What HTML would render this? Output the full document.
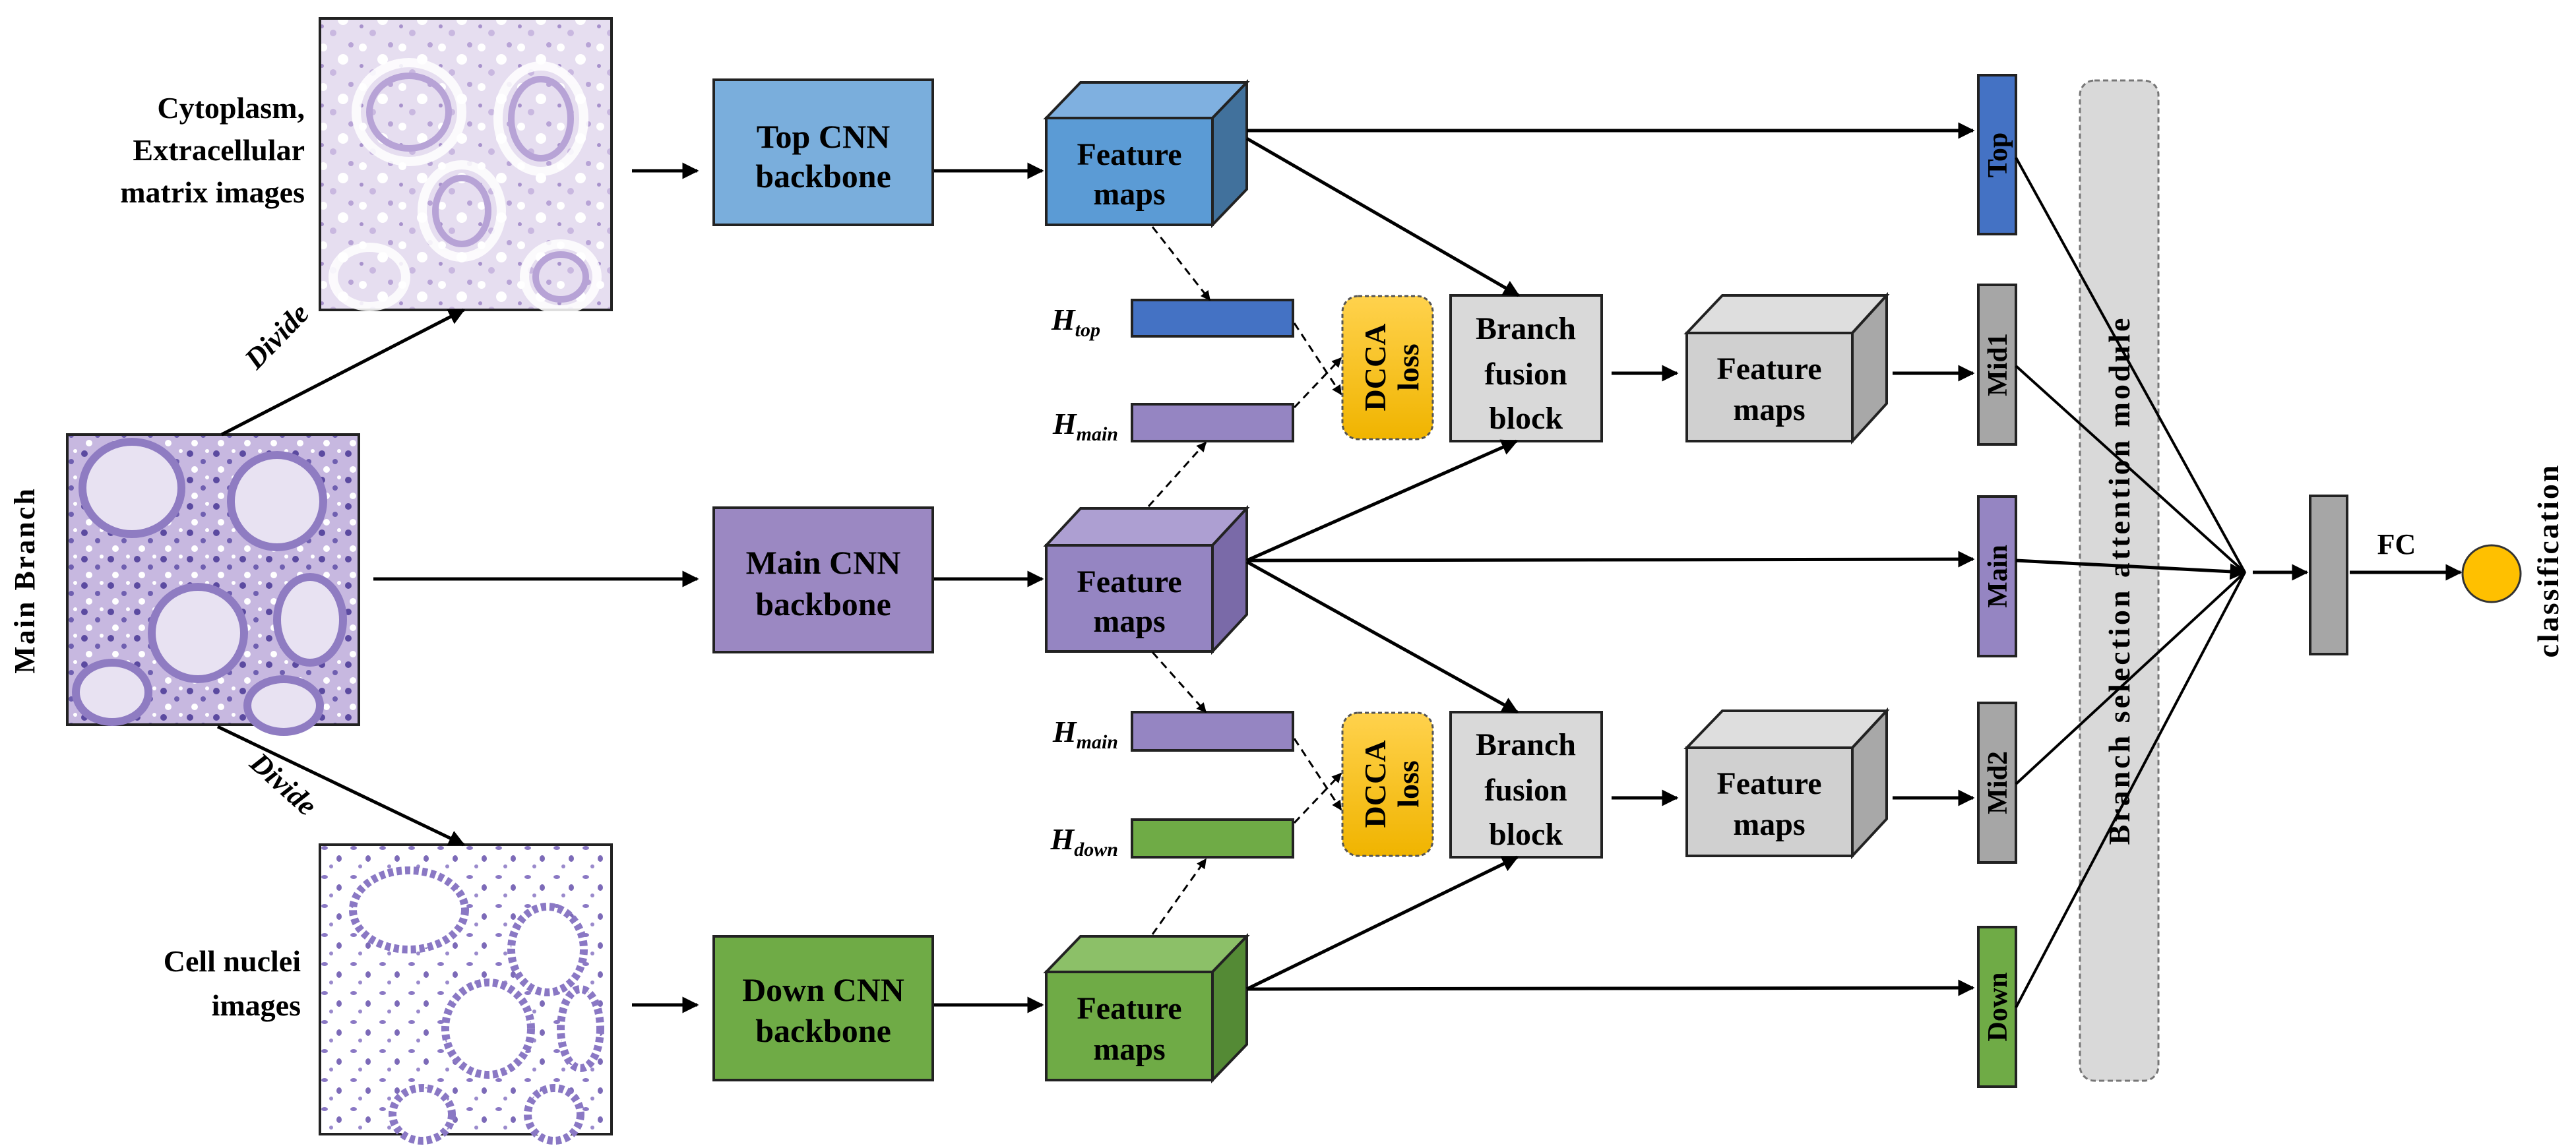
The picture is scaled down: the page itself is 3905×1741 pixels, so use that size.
<!DOCTYPE html>
<html><head><meta charset="utf-8"><style>
html,body{margin:0;padding:0;background:#fff}
svg{display:block}
text{font-family:"Liberation Serif",serif;font-weight:bold;fill:#000}
</style></head><body>
<svg width="3905" height="1741" viewBox="0 0 3905 1741" xmlns="http://www.w3.org/2000/svg">
<defs>
<marker id="a" viewBox="0 0 10 10" refX="9" refY="5" markerWidth="5" markerHeight="5" orient="auto"><path d="M0,0L10,5L0,10z" fill="#000"/></marker>
<marker id="s" viewBox="0 0 10 10" refX="9" refY="5" markerWidth="7" markerHeight="7" orient="auto"><path d="M0,1L10,5L0,9z" fill="#000"/></marker>
<pattern id="p1" width="60" height="60" patternUnits="userSpaceOnUse">
<rect width="60" height="60" fill="#e6def0"/><circle cx="10" cy="12" r="6" fill="#fff"/><circle cx="40" cy="30" r="8" fill="#fff"/><circle cx="25" cy="50" r="5" fill="#c9b8e0"/><circle cx="52" cy="8" r="4" fill="#b8a4d6"/><circle cx="8" cy="40" r="3" fill="#a892cc"/></pattern>
<pattern id="p2" width="40" height="40" patternUnits="userSpaceOnUse">
<rect width="40" height="40" fill="#c7b8e0"/><circle cx="8" cy="8" r="5" fill="#5b4aa0"/><circle cx="28" cy="20" r="4" fill="#6f5fb0"/><circle cx="15" cy="32" r="5" fill="#fff"/><circle cx="34" cy="4" r="3" fill="#fff"/></pattern>
<pattern id="p3" width="44" height="44" patternUnits="userSpaceOnUse">
<rect width="44" height="44" fill="#fff"/><ellipse cx="8" cy="10" rx="5" ry="3" fill="#8a78c4"/><ellipse cx="30" cy="26" rx="4" ry="5" fill="#7c6ab8"/><circle cx="18" cy="38" r="3" fill="#9a8acc"/></pattern>
<linearGradient id="g" x1="0" y1="0" x2="0" y2="1"><stop offset="0" stop-color="#ffd24d"/><stop offset="1" stop-color="#f0b400"/></linearGradient>
</defs>

<!-- images -->
<rect x="485" y="28" width="442" height="442" fill="url(#p1)" stroke="#222" stroke-width="4"/>
<g fill="none" stroke="#fff" stroke-width="14" opacity="0.85">
<ellipse cx="620" cy="170" rx="80" ry="75"/><ellipse cx="820" cy="180" rx="65" ry="80"/><ellipse cx="700" cy="320" rx="60" ry="70"/><ellipse cx="850" cy="420" rx="55" ry="50"/><ellipse cx="560" cy="420" rx="55" ry="45"/></g>
<g fill="none" stroke="#b7a3d6" stroke-width="10"><ellipse cx="620" cy="170" rx="60" ry="55"/><ellipse cx="820" cy="180" rx="45" ry="60"/><ellipse cx="700" cy="320" rx="40" ry="50"/><ellipse cx="850" cy="420" rx="38" ry="34"/></g>

<rect x="102" y="659" width="442" height="440" fill="url(#p2)" stroke="#222" stroke-width="4"/>
<g fill="#e8e2f2" stroke="#8f7cc2" stroke-width="12"><ellipse cx="200" cy="740" rx="75" ry="70"/><ellipse cx="420" cy="760" rx="70" ry="70"/><ellipse cx="300" cy="960" rx="70" ry="70"/><ellipse cx="470" cy="940" rx="50" ry="65"/><ellipse cx="170" cy="1050" rx="55" ry="45"/><ellipse cx="430" cy="1070" rx="55" ry="40"/></g>

<rect x="485" y="1281" width="442" height="439" fill="url(#p3)" stroke="#222" stroke-width="4"/>
<g fill="#fff" stroke="#8a78c4" stroke-width="12" stroke-dasharray="8 5"><ellipse cx="620" cy="1380" rx="85" ry="60"/><ellipse cx="830" cy="1440" rx="55" ry="65"/><ellipse cx="740" cy="1560" rx="65" ry="70"/><ellipse cx="880" cy="1560" rx="30" ry="60"/><ellipse cx="640" cy="1690" rx="45" ry="40"/><ellipse cx="840" cy="1690" rx="40" ry="40"/></g>

<!-- left labels -->
<g font-size="46" text-anchor="end">
<text x="462" y="179">Cytoplasm,</text><text x="462" y="243">Extracellular</text><text x="462" y="307">matrix images</text>
<text x="456" y="1473">Cell nuclei</text><text x="456" y="1540">images</text>
</g>
<text transform="translate(52,880) rotate(-90)" font-size="44" text-anchor="middle" letter-spacing="3">Main Branch</text>
<text transform="translate(430,520) rotate(-46)" font-size="44" font-style="italic" text-anchor="middle">Divide</text>
<text transform="translate(420,1200) rotate(42)" font-size="44" font-style="italic" text-anchor="middle">Divide</text>

<!-- divide arrows -->
<g stroke="#000" stroke-width="5" fill="none" marker-end="url(#a)">
<line x1="336" y1="659" x2="703" y2="470"/>
<line x1="330" y1="1102" x2="703" y2="1281"/>
<line x1="958" y1="259" x2="1057" y2="259"/>
<line x1="566" y1="878" x2="1057" y2="878"/>
<line x1="958" y1="1524" x2="1057" y2="1524"/>
<line x1="1414" y1="259" x2="1580" y2="259"/>
<line x1="1414" y1="878" x2="1580" y2="878"/>
<line x1="1414" y1="1524" x2="1580" y2="1524"/>
</g>

<!-- CNN boxes -->
<rect x="1082" y="121" width="332" height="220" fill="#7aaedc" stroke="#222" stroke-width="4"/>
<rect x="1082" y="770" width="332" height="219" fill="#9b88c2" stroke="#222" stroke-width="4"/>
<rect x="1082" y="1420" width="332" height="218" fill="#6fab46" stroke="#222" stroke-width="4"/>
<g font-size="50" text-anchor="middle">
<text x="1248" y="224">Top  CNN</text><text x="1248" y="284">backbone</text>
<text x="1248" y="870">Main CNN</text><text x="1248" y="933">backbone</text>
<text x="1248" y="1518">Down CNN</text><text x="1248" y="1580">backbone</text>
</g>

<!-- cubes -->
<g stroke="#222" stroke-width="4">
<polygon points="1586,179 1638,125 1890,125 1838,179" fill="#7fb0e0"/>
<polygon points="1838,179 1890,125 1890,287 1838,341" fill="#41719c"/>
<rect x="1586" y="179" width="252" height="162" fill="#5b9bd5"/>
<polygon points="1586,827 1638,771 1890,771 1838,827" fill="#ad9fd2"/>
<polygon points="1838,827 1890,771 1890,932 1838,988" fill="#7a6aa8"/>
<rect x="1586" y="827" width="252" height="161" fill="#9585c2"/>
<polygon points="1586,1474 1638,1420 1890,1420 1838,1474" fill="#8cc068"/>
<polygon points="1838,1474 1890,1420 1890,1584 1838,1638" fill="#548a35"/>
<rect x="1586" y="1474" width="252" height="164" fill="#6fab46"/>
<polygon points="2557,505 2611,448 2860,448 2808,505" fill="#dedede"/>
<polygon points="2808,505 2860,448 2860,612 2808,669" fill="#a8a8a8"/>
<rect x="2557" y="505" width="251" height="164" fill="#d0d0d0"/>
<polygon points="2557,1134 2611,1078 2860,1078 2808,1134" fill="#dedede"/>
<polygon points="2808,1134 2860,1078 2860,1242 2808,1298" fill="#a8a8a8"/>
<rect x="2557" y="1134" width="251" height="164" fill="#d0d0d0"/>
</g>
<g font-size="48" text-anchor="middle">
<text x="1712" y="250">Feature</text><text x="1712" y="310">maps</text>
<text x="1712" y="898">Feature</text><text x="1712" y="958">maps</text>
<text x="1712" y="1545">Feature</text><text x="1712" y="1607">maps</text>
<text x="2682" y="575">Feature</text><text x="2682" y="637">maps</text>
<text x="2682" y="1204">Feature</text><text x="2682" y="1266">maps</text>
</g>

<!-- H bars -->
<g stroke="#222" stroke-width="4">
<rect x="1716" y="455" width="244" height="55" fill="#4472c4"/>
<rect x="1716" y="613" width="244" height="56" fill="#9585c2"/>
<rect x="1716" y="1080" width="244" height="58" fill="#9585c2"/>
<rect x="1716" y="1243" width="244" height="57" fill="#6fab46"/>
</g>
<g font-size="46" font-style="italic" text-anchor="end">
<text x="1668" y="500">H<tspan font-size="30" dy="10">top</tspan></text>
<text x="1695" y="658">H<tspan font-size="30" dy="10">main</tspan></text>
<text x="1695" y="1125">H<tspan font-size="30" dy="10">main</tspan></text>
<text x="1695" y="1288">H<tspan font-size="30" dy="10">down</tspan></text>
</g>

<!-- dashed arrows -->
<g stroke="#000" stroke-width="3" stroke-dasharray="12 8" fill="none" marker-end="url(#a)">
<line x1="1747" y1="344" x2="1834" y2="455"/>
<line x1="1741" y1="768" x2="1828" y2="671"/>
<line x1="1747" y1="989" x2="1828" y2="1080"/>
<line x1="1747" y1="1417" x2="1828" y2="1303"/>
<line x1="1962" y1="490" x2="2033" y2="598"/>
<line x1="1962" y1="618" x2="2033" y2="543"/>
<line x1="1962" y1="1120" x2="2033" y2="1228"/>
<line x1="1962" y1="1248" x2="2033" y2="1173"/>
</g>

<!-- DCCA -->
<rect x="2035" y="449" width="137" height="217" rx="24" fill="url(#g)" stroke="#555" stroke-width="3" stroke-dasharray="6 4"/>
<rect x="2035" y="1081" width="137" height="217" rx="24" fill="url(#g)" stroke="#555" stroke-width="3" stroke-dasharray="6 4"/>
<g font-size="46" text-anchor="middle">
<text transform="translate(2100,557) rotate(-90)">DCCA</text>
<text transform="translate(2150,557) rotate(-90)">loss</text>
<text transform="translate(2100,1189) rotate(-90)">DCCA</text>
<text transform="translate(2150,1189) rotate(-90)">loss</text>
</g>

<!-- fusion blocks -->
<rect x="2199" y="448" width="229" height="221" fill="#d9d9d9" stroke="#222" stroke-width="4"/>
<rect x="2199" y="1080" width="229" height="220" fill="#d9d9d9" stroke="#222" stroke-width="4"/>
<g font-size="48" text-anchor="middle">
<text x="2313" y="514">Branch</text><text x="2313" y="583">fusion</text><text x="2313" y="650">block</text>
<text x="2313" y="1145">Branch</text><text x="2313" y="1214">fusion</text><text x="2313" y="1281">block</text>
</g>

<!-- solid connectors -->
<g stroke="#000" stroke-width="5" fill="none" marker-end="url(#a)">
<line x1="1890" y1="198" x2="2991" y2="198"/>
<line x1="1890" y1="210" x2="2302" y2="448"/>
<line x1="1890" y1="850" x2="2299" y2="669"/>
<line x1="1890" y1="850" x2="2991" y2="848"/>
<line x1="1890" y1="852" x2="2300" y2="1080"/>
<line x1="1890" y1="1500" x2="2300" y2="1300"/>
<line x1="1890" y1="1500" x2="2991" y2="1498"/>
<line x1="2443" y1="566" x2="2542" y2="566"/>
<line x1="2869" y1="566" x2="2991" y2="566"/>
<line x1="2443" y1="1210" x2="2542" y2="1210"/>
<line x1="2869" y1="1210" x2="2991" y2="1210"/>
</g>

<!-- attention module -->
<rect x="3153" y="122" width="119" height="1517" rx="22" fill="#d9d9d9" stroke="#777" stroke-width="3" stroke-dasharray="8 5"/>
<text transform="translate(3228,880) rotate(-90)" font-size="46" text-anchor="middle" letter-spacing="4">Branch selection attention module</text>

<!-- branch bars -->
<g stroke="#222" stroke-width="4">
<rect x="2999" y="114" width="57" height="241" fill="#4472c4"/>
<rect x="2999" y="432" width="57" height="242" fill="#a6a6a6"/>
<rect x="2999" y="753" width="57" height="242" fill="#9585c2"/>
<rect x="2999" y="1066" width="57" height="242" fill="#a6a6a6"/>
<rect x="2999" y="1406" width="57" height="242" fill="#6fab46"/>
<rect x="3502" y="752" width="56" height="240" fill="#a6a6a6"/>
</g>
<g font-size="42" text-anchor="middle">
<text transform="translate(3042,235) rotate(-90)">Top</text>
<text transform="translate(3042,553) rotate(-90)">Mid1</text>
<text transform="translate(3042,874) rotate(-90)">Main</text>
<text transform="translate(3042,1187) rotate(-90)">Mid2</text>
<text transform="translate(3042,1527) rotate(-90)">Down</text>
</g>

<!-- convergence -->
<g stroke="#000" stroke-width="4" fill="none">
<line x1="3056" y1="239" x2="3403" y2="868"/>
<line x1="3056" y1="555" x2="3403" y2="868"/>
<line x1="3056" y1="1189" x2="3403" y2="868"/>
<line x1="3056" y1="1528" x2="3403" y2="868"/>
</g>
<g stroke="#000" stroke-width="5" fill="none" marker-end="url(#a)">
<line x1="3056" y1="850" x2="3403" y2="868"/>
<line x1="3415" y1="868" x2="3497" y2="868"/>
<line x1="3562" y1="868" x2="3730" y2="868"/>
</g>
<text x="3633" y="840" font-size="44" text-anchor="middle">FC</text>
<ellipse cx="3777" cy="870" rx="44" ry="43" fill="#ffc000" stroke="#333" stroke-width="3"/>
<text transform="translate(3878,850) rotate(-90)" font-size="46" text-anchor="middle" letter-spacing="3">classification</text>
</svg>
</body></html>
